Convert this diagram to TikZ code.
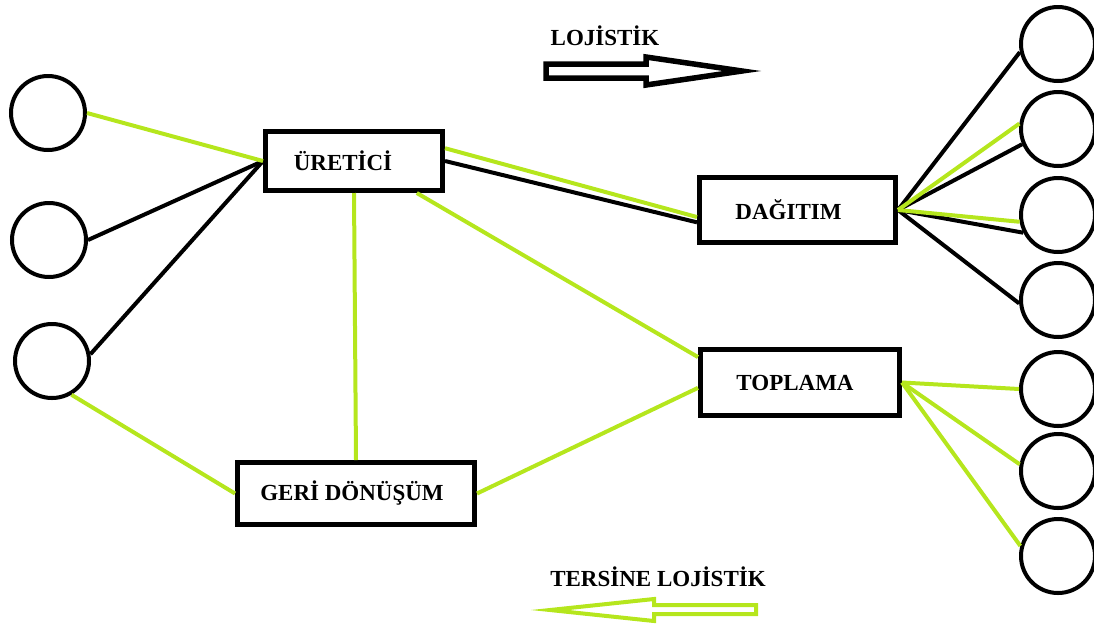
\documentclass[tikz,border=0pt]{standalone}
\usepackage{fontspec}
\setmainfont{Liberation Serif}
\definecolor{yesil}{RGB}{181,230,29}

\begin{document}
\begin{tikzpicture}[x=1pt, y=-1pt,
    kutu/.style={draw=black, line width=5pt, fill=white, inner sep=0pt, font=\fontsize{23}{26}\selectfont\bfseries},
    cember/.style={draw=black, line width=4pt, circle, minimum size=74pt, inner sep=0pt},
    baslik/.style={font=\fontsize{23}{26}\selectfont\bfseries},
    yesilcizgi/.style={yesil, line width=4pt},
    siyahcizgi/.style={black, line width=4pt}]
    \useasboundingbox (0,0) rectangle (1094,625);

    % Sol çemberler
    \node[cember] (s1) at (48,113) {};
    \node[cember] (s2) at (49,240) {};
    \node[cember] (s3) at (52,361) {};

    % Sağ çemberler
    \node[cember] (r1) at (1058,44) {};
    \node[cember] (r2) at (1058,129) {};
    \node[cember] (r3) at (1058,215) {};
    \node[cember] (r4) at (1058,300) {};
    \node[cember] (r5) at (1058,389) {};
    \node[cember] (r6) at (1058,471) {};
    \node[cember] (r7) at (1058,556) {};

    % Kutular
    \node[kutu, minimum width=177, minimum height=59] (uretici) at (354,161) {ÜRETİCİ\hspace*{22pt}};
    \node[kutu, minimum width=196, minimum height=65] (dagitim) at (797.5,210) {DAĞITIM\hspace*{18pt}};
    \node[kutu, minimum width=199, minimum height=66] (toplama) at (800,382.5) {TOPLAMA\hspace*{10pt}};
    \node[kutu, minimum width=237, minimum height=62] (geri) at (356,493.5) {GERİ DÖNÜŞÜM\hspace*{8pt}};

    % Siyah çizgiler (lojistik)
    \draw[siyahcizgi] (s2.east) -- (uretici.west);
    \draw[siyahcizgi] (s3.10) -- (uretici.west);
    \draw[siyahcizgi] (uretici.east) -- (dagitim.187);
    \draw[siyahcizgi] (dagitim.east) -- (r1.192);
    \draw[siyahcizgi] (dagitim.east) -- (r2.203);
    \draw[siyahcizgi] (dagitim.east) -- (r3.207);
    \draw[siyahcizgi] (dagitim.east) -- (r4.185);

    % Yeşil çizgiler (tersine lojistik)
    \draw[yesilcizgi] (s1.east) -- (uretici.west);
    \draw[yesilcizgi] (s3.-60) -- (geri.west);
    \draw[yesilcizgi] (uretici.8) -- (dagitim.184);
    \draw[yesilcizgi] (uretici.-27) -- (toplama.166);
    \draw[yesilcizgi] (uretici.south) -- (geri.north);
    \draw[yesilcizgi] (geri.east) -- (toplama.183);
    \draw[yesilcizgi] (dagitim.east) -- (r2.172);
    \draw[yesilcizgi] (dagitim.east) -- (r3.190);
    \draw[yesilcizgi] (toplama.east) -- (r5.180);
    \draw[yesilcizgi] (toplama.east) -- (r6.170);
    \draw[yesilcizgi] (toplama.east) -- (r7.165);

    % Başlıklar
    \node[baslik] (lojistik) at (605,36) {LOJİSTİK};
    \node[baslik] (tersine) at (658,577) {TERSİNE LOJİSTİK};

    % Oklar
    \draw[black, line width=5.5pt] (546,64) -- (646,64) -- (646,57) -- (742,71) -- (646,85) -- (646,78) -- (546,78) -- cycle;
    \draw[yesil, line width=4pt] (756,605) -- (654,605) -- (654,599) -- (550,610) -- (654,621) -- (654,614) -- (756,614) -- cycle;
\end{tikzpicture}
\end{document}
